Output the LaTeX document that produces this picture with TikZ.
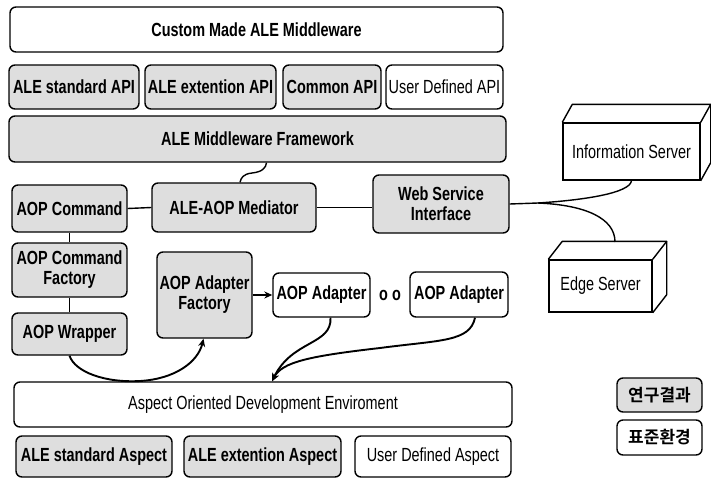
\documentclass[tikz,border=0pt]{standalone}
\usepackage{fontspec}
\setmainfont{Liberation Sans}[FakeStretch=0.76]
\newfontfamily\kofont{Noto Sans CJK KR}[BoldFont={* Bold}]
\usetikzlibrary{arrows.meta,calc}
\tikzset{
  box/.style={draw, line width=1.4pt, rounded corners=6pt, inner sep=2pt,
    align=center, font=\fontsize{19}{20}\selectfont\bfseries},
  plainbox/.style={box, fill=white, font=\fontsize{19}{20}\selectfont},
  shadebox/.style={box, fill=black!13},
  whitebold/.style={box, fill=white},
  srv/.style={draw, line width=1.4pt, fill=white, align=center,
    font=\fontsize{19}{20}\selectfont},
  conn/.style={line width=1.4pt},
  arr/.style={line width=1.9pt, -{Stealth[length=8pt,width=7pt]}},
}
\begin{document}
\begin{tikzpicture}[x=1pt,y=-1pt]
\useasboundingbox (0,0) rectangle (711,479);
% top layers
\node[whitebold, minimum width=493pt, minimum height=45pt] (custom) at (256.5,29.5) {Custom Made ALE Middleware};
\node[shadebox, minimum width=130pt, minimum height=44pt] (api1) at (74,87) {ALE standard API};
\node[shadebox, minimum width=131pt, minimum height=44pt] (api2) at (210.5,87) {ALE extention API};
\node[shadebox, minimum width=98pt, minimum height=44pt] (api3) at (332,87) {Common API};
\node[plainbox, minimum width=117pt, minimum height=44pt] (api4) at (444.5,87) {User Defined API};
\node[shadebox, minimum width=497pt, minimum height=46pt] (fw) at (257.5,139) {ALE Middleware Framework};
% middle row
\node[shadebox, minimum width=115pt, minimum height=47pt] (cmd) at (69.5,208.5) {AOP Command};
\node[shadebox, minimum width=164pt, minimum height=49pt] (med) at (234,207.5) {ALE-AOP Mediator};
\node[shadebox, minimum width=136pt, minimum height=58pt] (ws) at (441,204) {Web Service\\Interface};
\node[shadebox, minimum width=115pt, minimum height=54pt] (cmdf) at (69.5,270) {AOP Command\\Factory};
\node[shadebox, minimum width=95pt, minimum height=86pt] (adf) at (204.5,295) {AOP Adapter\\Factory};
\node[whitebold, minimum width=97pt, minimum height=44pt] (ad1) at (321.5,295) {AOP Adapter};
\node[font=\fontsize{19}{20}\selectfont\bfseries] (dots) at (390,295) {o o};
\node[whitebold, minimum width=98pt, minimum height=45pt] (ad2) at (459,294.5) {AOP Adapter};
\node[shadebox, minimum width=115pt, minimum height=42pt] (wrap) at (69.5,334) {AOP Wrapper};
% bottom
\node[plainbox, minimum width=498pt, minimum height=45pt] (ade) at (263,404.5) {Aspect Oriented Development Enviroment};
\node[shadebox, minimum width=156pt, minimum height=41pt] (asp1) at (94,456.5) {ALE standard Aspect};
\node[shadebox, minimum width=157pt, minimum height=41pt] (asp2) at (262.5,456.5) {ALE extention Aspect};
\node[plainbox, minimum width=156pt, minimum height=41pt] (asp3) at (433,456.5) {User Defined Aspect};
% servers
\node[srv, minimum width=137pt, minimum height=57pt] (info) at (631.5,151.5) {Information Server};
\draw[line width=1.4pt, line join=round] (info.north west) -- ++(10,-18) -- ([shift={(10,-18)}]info.north east)
  -- ([shift={(10,-18)}]info.south east) -- (info.south east);
\draw[line width=1.4pt] (info.north east) -- ++(10,-18);
\node[srv, minimum width=103pt, minimum height=52pt] (edge) at (600.5,286) {Edge Server};
\draw[line width=1.4pt, line join=round] (edge.north west) -- ++(14,-18) -- ([shift={(14,-18)}]edge.north east)
  -- ([shift={(14,-18)}]edge.south east) -- (edge.south east);
\draw[line width=1.4pt] (edge.north east) -- ++(14,-18);
\coordinate (edgetop) at (615,242);
% legend
\node[shadebox, font=\kofont\fontsize{17}{19}\selectfont\bfseries, minimum width=85pt, minimum height=34pt] (leg1) at (659.5,395) {연구결과};
\node[whitebold, font=\kofont\fontsize{17}{19}\selectfont\bfseries, minimum width=85pt, minimum height=35pt] (leg2) at (659.5,437.5) {표준환경};
% connectors
\draw[conn] (cmd.east) -- (med.west);
\draw[conn] (med.east) -- (med.east -| ws.west);
\draw[conn] (cmd.south) -- (cmdf.north);
\draw[conn] (cmdf.south) -- (wrap.north);
\draw[conn] ([xshift=9pt]fw.south) .. controls (266,168) and (262,172) .. (252,173)
  .. controls (243,174) and (241,178) .. ([xshift=6pt]med.north);
\coordinate (j) at (538,203);
\draw[conn] (ws.east) -- (j);
\draw[conn] (j) .. controls (585,200) and (630,193) .. (info.south);
\draw[conn] (j) .. controls (585,205) and (615,218) .. (edgetop);
\draw[arr] (adf.east) -- (ad1.west);
\draw[arr] (wrap.south) .. controls (75,372) and (105,383) .. (140,381)
  .. controls (175,379) and (198,362) .. ([xshift=-1pt]adf.south);
\coordinate (tip) at ([xshift=9pt]ade.north);
\draw[arr] ([xshift=9pt]ad1.south) .. controls (332,345) and (292,340) .. (tip);
\draw[arr] ([xshift=16pt]ad2.south) .. controls (470,342) and (440,340) .. (380,348)
  .. controls (310,356) and (282,362) .. (tip);
\end{tikzpicture}
\end{document}
